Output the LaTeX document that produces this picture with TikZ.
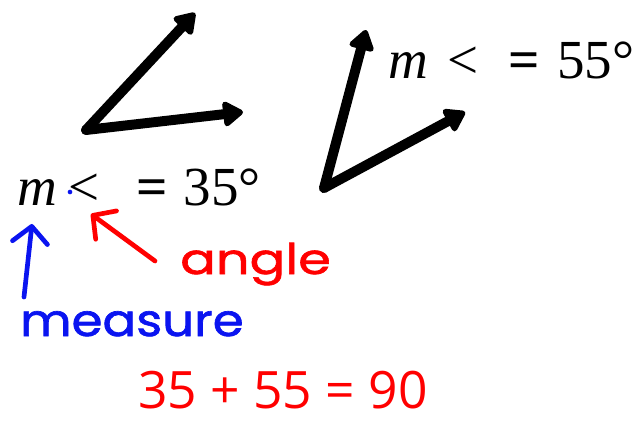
\documentclass[tikz,border=0pt]{standalone}
\usepackage{fontspec}
\setmainfont{Liberation Serif}
\newfontfamily\sumfont{Open Sans}
\newfontfamily\handfont[FakeStretch=1.25, FakeBold=1.5]{Poppins}
\newfontfamily\handwidefont[FakeStretch=1.12, FakeBold=1.5]{Poppins}
\usetikzlibrary{arrows.meta}
\definecolor{penred}{RGB}{255,0,0}
\definecolor{penblue}{RGB}{10,20,240}

\begin{document}
\begin{tikzpicture}[
  x=0.03cm, y=-0.03cm,
  ray/.style={line width=8.5pt, line cap=round, line join=round,
              -{Triangle[length=19pt, width=24pt, round]}},
  pen/.style={line width=4pt, line cap=round,
              -{Straight Barb[length=14pt, width=30pt, round]}},
  eqn/.style={anchor=base west, inner sep=0pt, font=\fontsize{47}{47}\selectfont},
  hand/.style={anchor=base west, inner sep=0pt}
]
  \useasboundingbox (0,0) rectangle (638,421);

  % left angle
  \coordinate (v1) at (86,130);
  \coordinate (t1a) at (195,13);
  \coordinate (t1b) at (243,112);
  \draw[ray] (v1) -- (t1a);
  \draw[ray] (v1) -- (t1b);

  % right angle
  \coordinate (v2) at (324,188);
  \coordinate (t2a) at (366,30);
  \coordinate (t2b) at (465,112);
  \draw[ray] (v2) -- (t2a);
  \draw[ray] (v2) -- (t2b);

  \node[eqn] (eq35) at (17,205) {\textit{m}\kern10pt<\kern31pt\textbf{=}\kern14pt35°};
  \node[eqn] (eq55) at (388,78) {\textit{m}\kern17pt<\kern25pt\textbf{=}\kern15pt55°};

  \fill[penblue] (70,192) circle (2pt);

  \node[hand, text=penred, font=\handfont\fontsize{36}{36}\selectfont] (angle) at (180,274) {angle};
  \node[hand, text=penblue, font=\handwidefont\fontsize{38}{38}\selectfont] (measure) at (20,336) {measure};

  \coordinate (mtail) at (24,297);
  \coordinate (mtip) at (32,224);
  \draw[pen, penblue] (mtail) -- (mtip);
  \coordinate (atail) at (155,261);
  \coordinate (atip) at (91,214);
  \draw[pen, penred] (atail) -- (atip);

  \node[anchor=base west, inner sep=0pt, text depth=0pt, text=penred,
        font=\sumfont\fontsize{44}{44}\selectfont] (sum) at (138,408) {35 + 55 = 90};
\end{tikzpicture}
\end{document}
